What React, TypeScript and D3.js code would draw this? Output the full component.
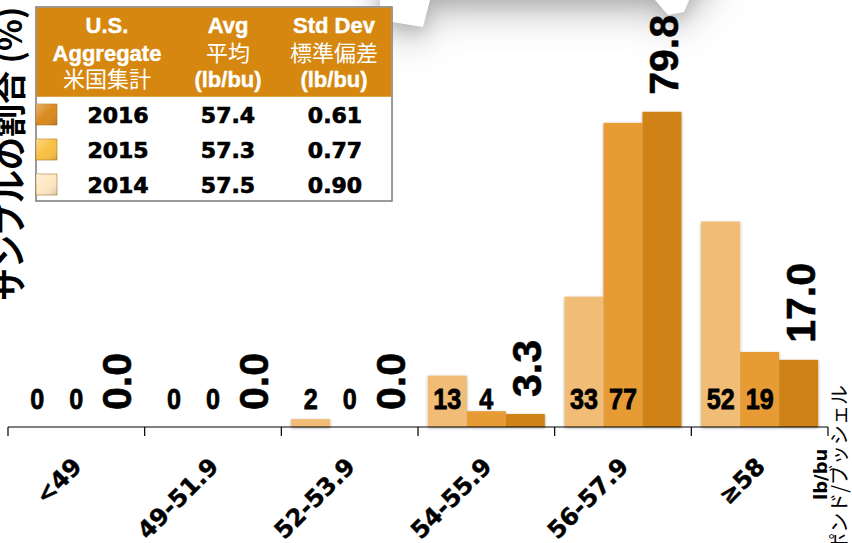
import React from "react";
import * as d3 from "d3";

// Test weight distribution by bucket (% of samples)
const categories = ["<49", "49-51.9", "52-53.9", "54-55.9", "56-57.9", "≥58"];
const seriesYears = ["2014", "2015", "2016"];
const values2014 = [0, 0, 2, 13, 33, 52];
const values2015 = [0, 0, 0, 4, 77, 19];
const values2016 = [0, 0, 0, 3.3, 79.8, 17.0];
const seriesColors = ["#F0BC76", "#E69B35", "#D08219"];

// Summary table
const tableYears = ["2016", "2015", "2014"];
const tableAvg = ["57.4", "57.3", "57.5"];
const tableStd = ["0.61", "0.77", "0.90"];
const swatchColors = ["#D98A1E", "#F9C142", "#FDE8C4"];

const W = 852;
const H = 543;
const axisY = 427;

export default function App() {
  const x = d3.scaleBand<string>().domain(categories).range([8, 828]).padding(0);
  const xs = d3
    .scaleBand<string>()
    .domain(seriesYears)
    .range([0, x.bandwidth()])
    .paddingInner(0)
    .paddingOuter(0.252);
  const y = d3.scaleLinear().domain([0, 100]).range([axisY, 32]);

  const series = [values2014, values2015, values2016];
  const fmtInt = d3.format("d");
  const fmtDec = d3.format(".1f");

  const ticks = [...categories.map((c) => x(c) as number), 828];

  const boldFont = "'Liberation Sans', Arial, sans-serif";
  const cjk = "'Noto Sans CJK JP', 'Noto Sans CJK SC', sans-serif";
  const wideFont = "'DejaVu Sans', Verdana, sans-serif";

  const bannerPath =
    "M 380 -40 L 730 -40 L 690 -2 L 684 12 L 668 15 L 655 0 L 430 0 L 423 27 L 392 22 L 380 10 Z";

  return (
    <svg
      width={W}
      height={H}
      viewBox={`0 0 ${W} ${H}`}
      style={{ position: "fixed", left: 0, top: 0, background: "#fff" }}
    >
      <defs>
        <filter id="barShadow" x="-20%" y="-20%" width="140%" height="140%">
          <feDropShadow dx="0" dy="1" stdDeviation="1.4" floodColor="#000" floodOpacity="0.35" />
        </filter>
        <filter id="wideBlur" x="-50%" y="-100%" width="200%" height="400%">
          <feGaussianBlur stdDeviation="18" />
        </filter>
        <filter id="nearBlur" x="-50%" y="-100%" width="200%" height="400%">
          <feGaussianBlur stdDeviation="8" />
        </filter>
        <linearGradient id="swatchGrad" x1="0" y1="0" x2="1" y2="1">
          <stop offset="0" stopColor="#fff" stopOpacity="0.35" />
          <stop offset="0.5" stopColor="#fff" stopOpacity="0" />
          <stop offset="1" stopColor="#000" stopOpacity="0.15" />
        </linearGradient>
      </defs>

      {/* curled banner and its soft shadow along the top edge */}
      <g>
        <path d={bannerPath} transform="translate(0,14)" fill="#808080" opacity={0.45} filter="url(#wideBlur)" />
        <path d={bannerPath} transform="translate(0,6)" fill="#707070" opacity={0.3} filter="url(#nearBlur)" />
        <path d={bannerPath} fill="#ffffff" />
      </g>

      {/* bars */}
      <g filter="url(#barShadow)">
        {series.map((vals, si) =>
          vals.map((v, ci) => {
            if (v <= 0) return null;
            const bx = (x(categories[ci]) as number) + (xs(seriesYears[si]) as number);
            return (
              <rect
                key={`${si}-${ci}`}
                x={bx}
                y={y(v)}
                width={xs.bandwidth()}
                height={axisY - y(v)}
                fill={seriesColors[si]}
              />
            );
          })
        )}
      </g>

      {/* axis */}
      <line x1={8} x2={828} y1={axisY} y2={axisY} stroke="#000" strokeWidth={1.2} />
      {ticks.map((t, i) => (
        <line key={i} x1={t} x2={t} y1={axisY} y2={axisY + 9} stroke="#000" strokeWidth={1.2} />
      ))}
      {categories.map((c) => {
        const cx = (x(c) as number) + x.bandwidth() / 2 + 7;
        return (
          <text
            key={c}
            transform={`translate(${cx},${axisY + 41}) rotate(-45)`}
            textAnchor="end"
            fontFamily={wideFont}
            fontWeight="bold"
            fontSize={24}
            fill="#000"
            stroke="#000"
            strokeWidth={0.4}
          >
            {c}
          </text>
        );
      })}

      {/* value labels: 2014 / 2015 at the base */}
      {[values2014, values2015].map((vals, si) =>
        vals.map((v, ci) => {
          const cx = (x(categories[ci]) as number) + (xs(seriesYears[si]) as number) + xs.bandwidth() / 2;
          return (
            <text
              key={`l${si}-${ci}`}
              transform={`translate(${cx},${axisY - 18}) scale(0.84,1)`}
              textAnchor="middle"
              fontFamily={boldFont}
              fontWeight="bold"
              fontSize={30}
              fill="#000"
              stroke="#000"
              strokeWidth={0.8}
            >
              {fmtInt(v)}
            </text>
          );
        })
      )}

      {/* value labels: 2016 rotated above the bar */}
      {values2016.map((v, ci) => {
        const cx = (x(categories[ci]) as number) + (xs("2016") as number) + xs.bandwidth() / 2 + 16;
        return (
          <text
            key={`r${ci}`}
            transform={`translate(${cx},${y(v) - 17}) rotate(-90)`}
            textAnchor="start"
            fontFamily={boldFont}
            fontWeight="bold"
            fontSize={41}
            fill="#000"
            stroke="#000"
            strokeWidth={0.6}
          >
            {fmtDec(v)}
          </text>
        );
      })}

      {/* axis titles */}
      <text
        transform={`translate(22,301) rotate(-90)`}
        textAnchor="start"
        fontFamily={cjk}
        fontWeight="bold"
        fontSize={33}
        fill="#000"
      >
        サンプルの割合 (%)
      </text>
      <text
        transform={`translate(827,500) rotate(-90)`}
        textAnchor="start"
        fontFamily={wideFont}
        fontWeight="bold"
        fontSize={18}
        fill="#000"
      >
        lb/bu
      </text>
      <text
        transform={`translate(847,385) rotate(-90)`}
        textAnchor="end"
        fontFamily={cjk}
        fontSize={20}
        fill="#000"
      >
        ポンド/ブッシェル
      </text>

      {/* summary table */}
      <g>
        <rect x={36} y={7} width={356} height={194} fill="#fff" stroke="#7a7a7a" strokeWidth={1.5} />
        <rect x={36.75} y={7.75} width={354.5} height={89} fill="#D5870F" />
        {[
          { cx: 107, lines: ["U.S.", "Aggregate", "米国集計"] },
          { cx: 228, lines: ["Avg", "平均", "(lb/bu)"] },
          { cx: 334, lines: ["Std Dev", "標準偏差", "(lb/bu)"] },
        ].map((col, i) =>
          col.lines.map((ln, j) => {
            const isCjk = /[\u3040-\u9fff]/.test(ln);
            return (
              <text
                key={`h${i}-${j}`}
                x={col.cx}
                y={[33, 61, 87][j]}
                textAnchor="middle"
                fontFamily={isCjk ? cjk : boldFont}
                fontWeight={isCjk ? "normal" : "bold"}
                fontSize={22}
                fill="#fff"
                stroke="#fff"
                strokeWidth={isCjk ? 0 : 0.4}
              >
                {ln}
              </text>
            );
          })
        )}
        {tableYears.map((yr, i) => {
          const by = [123, 158, 193][i];
          return (
            <g key={yr}>
              <rect x={36} y={by - 19} width={21} height={21} fill={swatchColors[i]} stroke="#b07020" strokeWidth={0.6} />
              <rect x={36} y={by - 19} width={21} height={21} fill="url(#swatchGrad)" />
              {[
                { cx: 118, t: yr },
                { cx: 228, t: tableAvg[i] },
                { cx: 335, t: tableStd[i] },
              ].map((c, k) => (
                <text
                  key={k}
                  x={c.cx}
                  y={by}
                  textAnchor="middle"
                  fontFamily={wideFont}
                  fontWeight="bold"
                  fontSize={22}
                  fill="#000"
                  stroke="#000"
                  strokeWidth={0.7}
                >
                  {c.t}
                </text>
              ))}
            </g>
          );
        })}
      </g>
    </svg>
  );
}
